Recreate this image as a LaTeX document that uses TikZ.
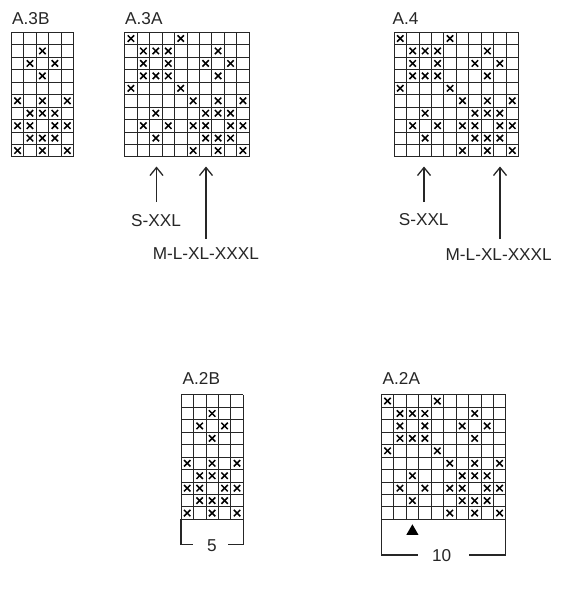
\documentclass[tikz,border=0pt]{standalone}
\usepackage{fontspec}
\setmainfont{Liberation Sans}
\usetikzlibrary{arrows.meta,shapes.geometric}
\newcommand\cellsz{12.45}
\newcommand\drawknit[4]{%
  \foreach \i in {0,...,#3} \draw[gridline] ({#1+\i*\cellsz},#2) -- ({#1+\i*\cellsz},{#2+10*\cellsz});
  \foreach \j in {0,...,10} \draw[gridline] (#1,{#2+\j*\cellsz}) -- ({#1+#3*\cellsz},{#2+\j*\cellsz});
  \foreach \rr/\cc in #4 {
    \draw[xmark] ({#1+(\cc-0.5)*\cellsz-3.2},{#2+(\rr-0.5)*\cellsz-3.2}) -- ++(6.4,6.4);
    \draw[xmark] ({#1+(\cc-0.5)*\cellsz-3.2},{#2+(\rr-0.5)*\cellsz+3.2}) -- ++(6.4,-6.4);
  }%
}
\newcommand\patA{1/1,1/5,2/2,2/3,2/4,2/8,3/2,3/4,3/7,3/9,4/2,4/3,4/4,4/8,5/1,5/5,6/6,6/8,6/10,7/3,7/7,7/8,7/9,8/2,8/4,8/6,8/7,8/9,8/10,9/3,9/7,9/8,9/9,10/6,10/8,10/10}
\newcommand\patB{2/3,3/2,3/4,4/3,6/1,6/3,6/5,7/2,7/3,7/4,8/1,8/2,8/4,8/5,9/2,9/3,9/4,10/1,10/3,10/5}
\begin{document}
\begin{tikzpicture}[x=1pt,y=-1pt,
  gridline/.style={draw=black!85,line width=0.8pt},
  xmark/.style={draw=black,line width=1.5pt},
  lbl/.style={font=\fontsize{17.2}{19}\selectfont,text=black!85,inner sep=0pt},
  title/.style={lbl,anchor=base west},
  uparrow/.style={draw=black!85,line width=1.3pt,-{Straight Barb[length=8pt,width=13pt]}},
  bracket/.style={draw=black!85,line width=1.1pt}]
\useasboundingbox (0,0) rectangle (566,600);
% titles
\node[title] (t3b) at (12,24) {A.3B};
\node[title] (t3a) at (125,24) {A.3A};
\node[title] (t4) at (392.5,24) {A.4};
\node[title] (t2b) at (182.5,384.5) {A.2B};
\node[title] (t2a) at (382.5,384.5) {A.2A};
% grids
\drawknit{11.3}{32.3}{5}{\patB}
\drawknit{124.7}{32.3}{10}{\patA}
\drawknit{394}{32.3}{10}{\patA}
\drawknit{181}{394.8}{5}{\patB}
\drawknit{381.3}{394.8}{10}{\patA}
% arrows A.3A
\coordinate (a1tip) at (156.5,166.5);
\coordinate (a1tail) at (156.5,202);
\coordinate (a2tip) at (206,166.5);
\coordinate (a2tail) at (206,238.5);
\draw[uparrow] (a1tail) -- (a1tip);
\draw[uparrow] (a2tail) -- (a2tip);
\node[lbl] (s1) at (156,220.5) {S-XXL};
\node[lbl] (m1) at (205.8,254) {M-L-XL-XXXL};
% arrows A.4
\coordinate (b1tip) at (424,166.5);
\coordinate (b1tail) at (424,202);
\coordinate (b2tip) at (500,166.5);
\coordinate (b2tail) at (500,239);
\draw[uparrow] (b1tail) -- (b1tip);
\draw[uparrow] (b2tail) -- (b2tip);
\node[lbl] (s2) at (423.7,220) {S-XXL};
\node[lbl] (m2) at (498.7,254.7) {M-L-XL-XXXL};
% bracket A.2B
\node[lbl] (n5) at (212,545.5) {5};
\draw[bracket] (181,519.3) -- (181,544.3) -- (193.3,544.3);
\draw[bracket] (228.3,544.3) -- (243.25,544.3) -- (243.25,519.3);
% bracket A.2A
\node[lbl] (n10) at (441.7,555.5) {10};
\draw[bracket] (381.3,519.3) -- (381.3,555) -- (418.3,555);
\draw[bracket] (469,555) -- (505.8,555) -- (505.8,519.3);
\node[fill=black,draw=none,regular polygon,regular polygon sides=3,inner sep=0pt,minimum size=14pt] (tri) at (412.4,531.3) {};
\end{tikzpicture}
\end{document}
